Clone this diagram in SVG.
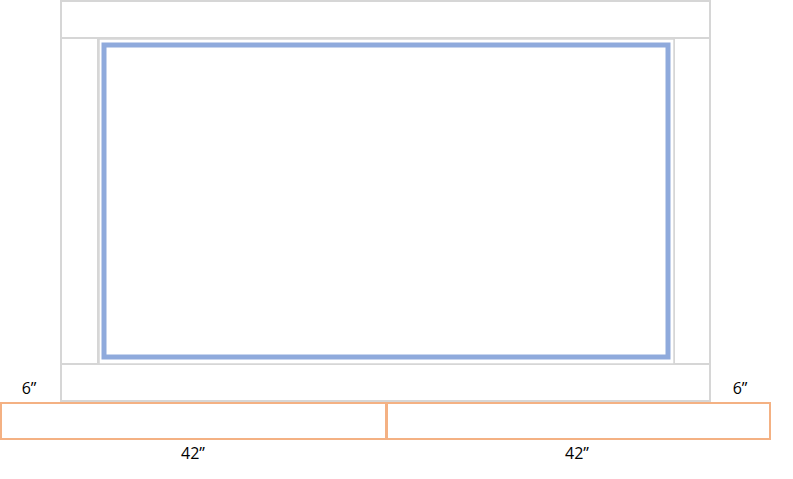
<svg xmlns="http://www.w3.org/2000/svg" width="793" height="479" viewBox="0 0 793 479">
<style>
.g{fill:#fff;stroke:#d6d6d6;stroke-width:2}
.o{fill:#fff;stroke:#f4b183;stroke-width:2}
.t{font-family:"Open Sans","Liberation Sans",Arial,sans-serif;font-size:16px;fill:#000;text-anchor:middle}
</style>
<rect width="793" height="479" fill="#fff"/>
<g id="top"><rect class="g" x="61" y="1" width="649" height="37"/></g>
<g id="left"><rect class="g" x="61" y="38" width="37" height="326"/></g>
<g id="right"><rect class="g" x="674" y="38" width="36" height="326"/></g>
<g id="bottom"><rect class="g" x="61" y="364" width="649" height="37"/></g>
<g id="inner"><rect fill="#fff" stroke="#d6d6d6" stroke-width="1.5" x="99" y="39" width="575" height="325"/></g>
<g id="screen"><rect fill="none" stroke="#8faadc" stroke-width="5" x="104" y="45" width="564" height="312"/></g>
<g id="baseL"><rect class="o" x="1" y="403" width="385" height="36"/></g>
<g id="baseR"><rect class="o" x="387" y="403" width="383" height="36"/></g>
<g id="labels">
<text class="t" x="29" y="394">6”</text>
<text class="t" x="740" y="394">6”</text>
<text class="t" x="193" y="459">42”</text>
<text class="t" x="577" y="459">42”</text>
</g>
<g id="connectors"/>
</svg>
